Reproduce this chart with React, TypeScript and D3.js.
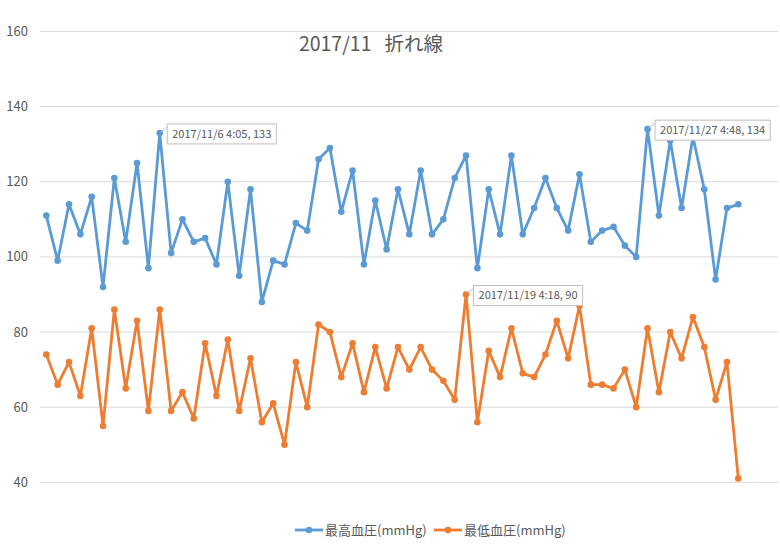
import * as d3 from "d3";
import { useEffect, useRef } from "react";

const title = "2017/11\u00a0\u00a0\u00a0折れ線";
const seriesNames = ["最高血圧(mmHg)", "最低血圧(mmHg)"];
const seriesColors = ["#5B9BD5", "#ED7D31"];
const yTicks = [40, 60, 80, 100, 120, 140, 160];

const highValues = [
  111, 99, 114, 106, 116, 92, 121, 104, 125, 97, 133, 101, 110, 104, 105, 98, 120, 95, 118, 88,
  99, 98, 109, 107, 126, 129, 112, 123, 98, 115, 102, 118, 106, 123, 106, 110, 121, 127, 97, 118,
  106, 127, 106, 113, 121, 113, 107, 122, 104, 107, 108, 103, 100, 134, 111, 131, 113, 132, 118,
  94, 113, 114,
];
const lowValues = [
  74, 66, 72, 63, 81, 55, 86, 65, 83, 59, 86, 59, 64, 57, 77, 63, 78, 59, 73, 56,
  61, 50, 72, 60, 82, 80, 68, 77, 64, 76, 65, 76, 70, 76, 70, 67, 62, 90, 56, 75,
  68, 81, 69, 68, 74, 83, 73, 87, 66, 66, 65, 70, 60, 81, 64, 80, 73, 84, 76, 62, 72, 41,
];

// data labels: which series, which point, and its timestamp
const labelSeries = [0, 1, 0];
const labelIndex = [10, 37, 53];
const labelTime = ["2017/11/6 4:05", "2017/11/19 4:18", "2017/11/27 4:48"];

const width = 780;
const height = 552;
const textColor = "#595959";
const font = "'Noto Sans CJK JP', 'Open Sans', sans-serif";

export default function App() {
  const svgRef = useRef(null);

  useEffect(() => {
    document.body.style.margin = "0";
    const svg = d3.select(svgRef.current);
    svg.selectChildren("*").remove();

    const x = d3.scaleLinear().domain([0, highValues.length - 1]).range([46.3, 738.3]);
    const y = d3.scaleLinear().domain([40, 160]).range([482.3, 31.5]);

    // gridlines
    svg
      .append("g")
      .selectAll("line")
      .data(yTicks)
      .join("line")
      .attr("x1", 40)
      .attr("x2", 778)
      .attr("y1", (d) => y(d))
      .attr("y2", (d) => y(d))
      .attr("stroke", "#D9D9D9")
      .attr("stroke-width", 1);

    // y axis labels
    svg
      .append("g")
      .selectAll("text")
      .data(yTicks)
      .join("text")
      .attr("x", 28)
      .attr("y", (d) => y(d))
      .attr("dy", "0.35em")
      .attr("text-anchor", "end")
      .attr("font-size", 13)
      .attr("fill", textColor)
      .attr("font-family", font)
      .text((d) => d);

    // title
    svg
      .append("text")
      .attr("x", 371)
      .attr("y", 51)
      .attr("text-anchor", "middle")
      .attr("font-size", 19.5)
      .attr("fill", textColor)
      .attr("font-family", font)
      .text(title);

    const line = d3
      .line<number>()
      .x((_, i) => x(i))
      .y((d) => y(d));

    [highValues, lowValues].forEach((values, s) => {
      const g = svg.append("g");
      g.append("path")
        .attr("d", line(values))
        .attr("fill", "none")
        .attr("stroke", seriesColors[s])
        .attr("stroke-width", 2.8)
        .attr("stroke-linejoin", "round");
      g.selectAll("circle")
        .data(values)
        .join("circle")
        .attr("cx", (_, i) => x(i))
        .attr("cy", (d) => y(d))
        .attr("r", 3.3)
        .attr("fill", seriesColors[s]);
    });

    // data labels
    labelIndex.forEach((idx, k) => {
      const values = labelSeries[k] === 0 ? highValues : lowValues;
      const px = x(idx);
      const py = y(values[idx]);
      const g = svg.append("g");
      const bx = px + 7.5;
      const by = py - 9;
      const t = g
        .append("text")
        .attr("x", bx + 5)
        .attr("y", by + 10)
        .attr("dy", "0.35em")
        .attr("font-size", 11)
        .attr("fill", textColor)
        .attr("font-family", font)
        .text(`${labelTime[k]}, ${values[idx]}`);
      const tw = (t.node() as SVGTextElement).getComputedTextLength();
      g.insert("rect", "text")
        .attr("x", bx)
        .attr("y", by)
        .attr("width", tw + 10)
        .attr("height", 20)
        .attr("fill", "white")
        .attr("stroke", "#BFBFBF");
      g.insert("line", "rect")
        .attr("x1", px + 1)
        .attr("y1", py - 1)
        .attr("x2", bx)
        .attr("y2", by + 3)
        .attr("stroke", "#BFBFBF");
    });

    // legend
    const legendX = [295, 434];
    seriesNames.forEach((name, s) => {
      const g = svg.append("g").attr("transform", `translate(${legendX[s]},530)`);
      g.append("line")
        .attr("x1", 0)
        .attr("x2", 28)
        .attr("stroke", seriesColors[s])
        .attr("stroke-width", 2.8);
      g.append("circle").attr("cx", 14).attr("r", 3.3).attr("fill", seriesColors[s]);
      g.append("text")
        .attr("x", 30)
        .attr("dy", "0.35em")
        .attr("font-size", 13)
        .attr("fill", textColor)
        .attr("font-family", font)
        .text(name);
    });
  }, []);

  return <svg ref={svgRef} width={width} height={height} style={{ display: "block" }} />;
}
